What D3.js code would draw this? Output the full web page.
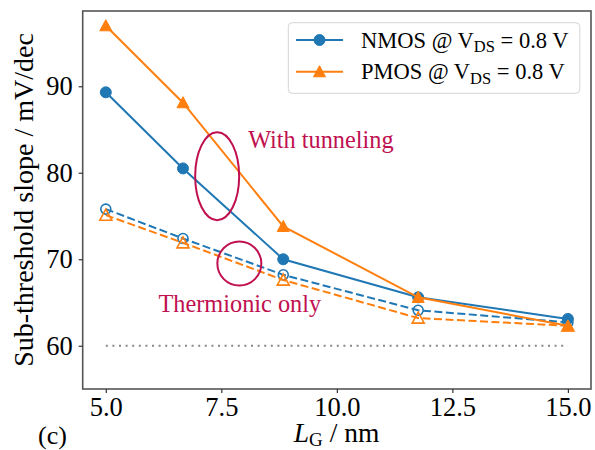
<!DOCTYPE html>
<html>
<head>
<meta charset="utf-8">
<script src="https://cdn.jsdelivr.net/npm/d3@7"></script>
<style>
  body { margin: 0; background: #fff; }
  svg { display: block; }
  svg text { font-family: "Liberation Serif", "Tinos", "Times New Roman", "DejaVu Serif", serif; }
</style>
</head>
<body>
<div id="chart"></div>
<script>
// gate length (nm)
const gateLength = [5, 6.67, 8.84, 11.76, 15];
// sub-threshold slope (mV/dec)
const nmosTunnel  = [89.3, 80.5, 70.0, 65.6, 63.1];
const pmosTunnel  = [97.0, 88.1, 73.8, 65.6, 62.3];
const nmosThermal = [75.8, 72.4, 68.2, 64.1, 62.7];
const pmosThermal = [75.1, 71.9, 67.6, 63.2, 62.3];
const thermalLimit = 60;

const xTicks = [5.0, 7.5, 10.0, 12.5, 15.0];
const yTicks = [60, 70, 80, 90];

// annotation ellipses: centre and radii in data units
const ellipses = [
  {cx: 7.41, cy: 79.6, rx: 0.476, ry: 5.08},
  {cx: 7.89, cy: 69.5, rx: 0.476, ry: 2.54}
];
const notes = [
  {x: 8.08, y: 82.87, text: "With tunneling"},
  {x: 6.14, y: 63.9, text: "Thermionic only"}
];

const width = 595, height = 450;
const margin = {left: 82.7, right: 4, top: 11, bottom: 61};
const blue = "#1f77b4", orange = "#ff7f0e", note = "#c0104f";
const serif = "'Liberation Serif', 'Tinos', 'Times New Roman', 'DejaVu Serif', serif";

const svg = d3.select("#chart").append("svg")
  .attr("width", width)
  .attr("height", height)
  .attr("font-family", serif);

const x = d3.scaleLinear().domain([4.5, 15.5]).range([margin.left, width - margin.right]);
const y = d3.scaleLinear().domain([55, 98.7]).range([height - margin.bottom, margin.top]);

// limit line
svg.append("line")
  .attr("x1", x(5)).attr("x2", x(15))
  .attr("y1", y(thermalLimit)).attr("y2", y(thermalLimit))
  .attr("stroke", "#888")
  .attr("stroke-width", 2)
  .attr("stroke-dasharray", "2,4.6");

const series = [
  {vals: nmosThermal, color: blue, marker: "circle", filled: false, dash: "8,3.5"},
  {vals: pmosThermal, color: orange, marker: "triangle", filled: false, dash: "8,3.5"},
  {vals: nmosTunnel, color: blue, marker: "circle", filled: true, dash: null},
  {vals: pmosTunnel, color: orange, marker: "triangle", filled: true, dash: null}
];

const line = d3.line().x(d => x(d[0])).y(d => y(d[1]));
const tri = (cx, cy, s) => `M${cx},${cy - s}L${cx + s},${cy + s * 0.85}L${cx - s},${cy + s * 0.85}Z`;

function drawMarker(g, type, cx, cy, color, filled) {
  if (type === "circle") {
    g.append("circle")
      .attr("cx", cx).attr("cy", cy).attr("r", filled ? 5.5 : 5)
      .attr("fill", filled ? color : "none")
      .attr("stroke", color).attr("stroke-width", filled ? 1 : 1.6);
  } else {
    g.append("path")
      .attr("d", tri(cx, cy, 6))
      .attr("fill", filled ? color : "none")
      .attr("stroke", color).attr("stroke-width", filled ? 1 : 1.6)
      .attr("stroke-linejoin", "miter");
  }
}

series.forEach(s => {
  const pts = gateLength.map((g, i) => [g, s.vals[i]]);
  const g = svg.append("g");
  g.append("path")
    .attr("d", line(pts))
    .attr("fill", "none")
    .attr("stroke", s.color)
    .attr("stroke-width", 2)
    .attr("stroke-dasharray", s.dash);
  pts.forEach(p => drawMarker(g, s.marker, x(p[0]), y(p[1]), s.color, s.filled));
});

// annotations
svg.selectAll(".ell")
  .data(ellipses)
  .enter().append("ellipse")
  .attr("cx", d => x(d.cx))
  .attr("cy", d => y(d.cy))
  .attr("rx", d => x(d.cx + d.rx) - x(d.cx))
  .attr("ry", d => y(d.cy - d.ry) - y(d.cy))
  .attr("fill", "none")
  .attr("stroke", note)
  .attr("stroke-width", 2);

svg.selectAll(".note")
  .data(notes)
  .enter().append("text")
  .attr("x", d => x(d.x))
  .attr("y", d => y(d.y))
  .attr("font-size", "24.3px")
  .attr("fill", note)
  .text(d => d.text);

// axes frame
const x0 = x.range()[0], x1 = x.range()[1], y0 = y.range()[0], y1 = y.range()[1];
svg.append("rect")
  .attr("x", x0).attr("y", y1)
  .attr("width", x1 - x0).attr("height", y0 - y1)
  .attr("fill", "none")
  .attr("stroke", "#555")
  .attr("stroke-width", 1.6);

const xAxis = svg.append("g")
  .attr("transform", `translate(0,${y0})`)
  .call(d3.axisBottom(x).tickValues(xTicks).tickFormat(d3.format(".1f")).tickSize(4).tickPadding(4));
xAxis.attr("font-family", serif);
xAxis.select(".domain").remove();
xAxis.selectAll("line").attr("stroke", "#333").attr("stroke-width", 1.2);
xAxis.selectAll("text")
  .attr("font-size", "26.5px")
  .attr("fill", "#000");

const yAxis = svg.append("g")
  .attr("transform", `translate(${x0},0)`)
  .call(d3.axisLeft(y).tickValues(yTicks).tickSize(4).tickPadding(6));
yAxis.attr("font-family", serif);
yAxis.select(".domain").remove();
yAxis.selectAll("line").attr("stroke", "#333").attr("stroke-width", 1.2);
yAxis.selectAll("text")
  .attr("font-size", "26.5px")
  .attr("fill", "#000");

// axis labels
svg.append("text")
  .attr("transform", `translate(33,${(y0 + y1) / 2}) rotate(-90)`)
  .attr("text-anchor", "middle")
  .attr("font-size", "28px")
  .text("Sub-threshold slope / mV/dec");

const xl = svg.append("text")
  .attr("x", 336.5)
  .attr("y", 441.5)
  .attr("text-anchor", "middle")
  .attr("font-size", "27.5px");
xl.append("tspan").attr("font-style", "italic").text("L");
xl.append("tspan").attr("font-size", "19px").attr("dy", 4).text("G");
xl.append("tspan").attr("dy", -4).text(" / nm");

svg.append("text")
  .attr("x", 38)
  .attr("y", 444)
  .attr("font-size", "26px")
  .text("(c)");

// legend
const legendItems = [
  {name: "NMOS", color: blue, marker: "circle"},
  {name: "PMOS", color: orange, marker: "triangle"}
];
const lg = svg.append("g");
lg.append("rect")
  .attr("x", 288.3).attr("y", 22.7)
  .attr("width", 291.5).attr("height", 70.6)
  .attr("rx", 4)
  .attr("fill", "#fff")
  .attr("fill-opacity", 0.8)
  .attr("stroke", "#d4d4d4")
  .attr("stroke-width", 1);

legendItems.forEach((d, i) => {
  const ry = 40 + i * 31.7;
  lg.append("line")
    .attr("x1", 296).attr("x2", 343)
    .attr("y1", ry).attr("y2", ry)
    .attr("stroke", d.color).attr("stroke-width", 2);
  drawMarker(lg, d.marker, 319.5, ry, d.color, true);
  const t = lg.append("text")
    .attr("x", 361)
    .attr("y", ry + 7.5)
    .attr("font-size", "22.5px");
  t.append("tspan").text(`${d.name} @ V`);
  t.append("tspan").attr("font-size", "16.5px").attr("dy", 4.5).text("DS");
  t.append("tspan").attr("dy", -4.5).text(" = 0.8 V");
});
</script>
</body>
</html>
